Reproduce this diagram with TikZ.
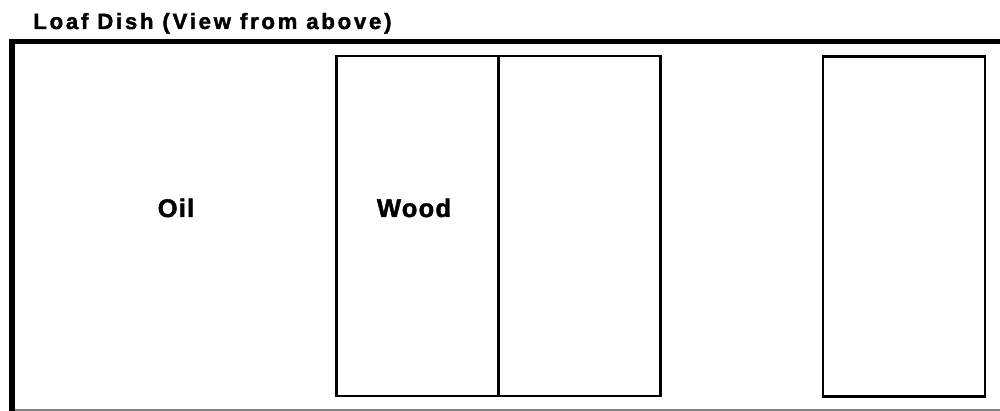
\documentclass[tikz,border=0pt]{standalone}
\usepackage{fontspec}
\setmainfont{Liberation Sans}[BoldFeatures={FakeBold=1.8}]

\tikzset{
  wall/.style={line width=3.2pt},
  slice/.style={draw, line width=1.2pt, inner sep=0pt, minimum width=3.24cm, minimum height=6.8cm},
  lbl/.style={font=\fontsize{14.5}{17}\selectfont\bfseries\addfontfeature{LetterSpace=5}},
  ttl/.style={font=\fontsize{12.6}{15}\selectfont\bfseries\addfontfeature{LetterSpace=12.5}}
}

\begin{document}
\begin{tikzpicture}[x=0.02cm, y=-0.02cm]
  \useasboundingbox (0,0) rectangle (1000,411);
  \node[ttl, anchor=base west, inner sep=0pt] (title) at (33,29) {Loaf Dish (View from above)};
  \coordinate (c0) at (12,411);
  \coordinate (c1) at (12,41.5);
  \coordinate (c2) at (1010,41.5);
  \coordinate (b0) at (15,410);
  \coordinate (b1) at (1010,410);
  \draw[wall] (c0) -- (c1) -- (c2);
  \draw[gray, line width=1pt] (b0) -- (b1);
  \node[slice] (s1) at (417.5,226) {};
  \node[slice] (s2) at (579.5,226) {};
  \node[slice] (s3) at (904,226.5) {};
  \node[lbl, anchor=base, inner sep=0pt] (oil) at (176,217) {Oil};
  \node[lbl, anchor=base, inner sep=0pt] (wood) at (414,217) {Wood};
\end{tikzpicture}
\end{document}
